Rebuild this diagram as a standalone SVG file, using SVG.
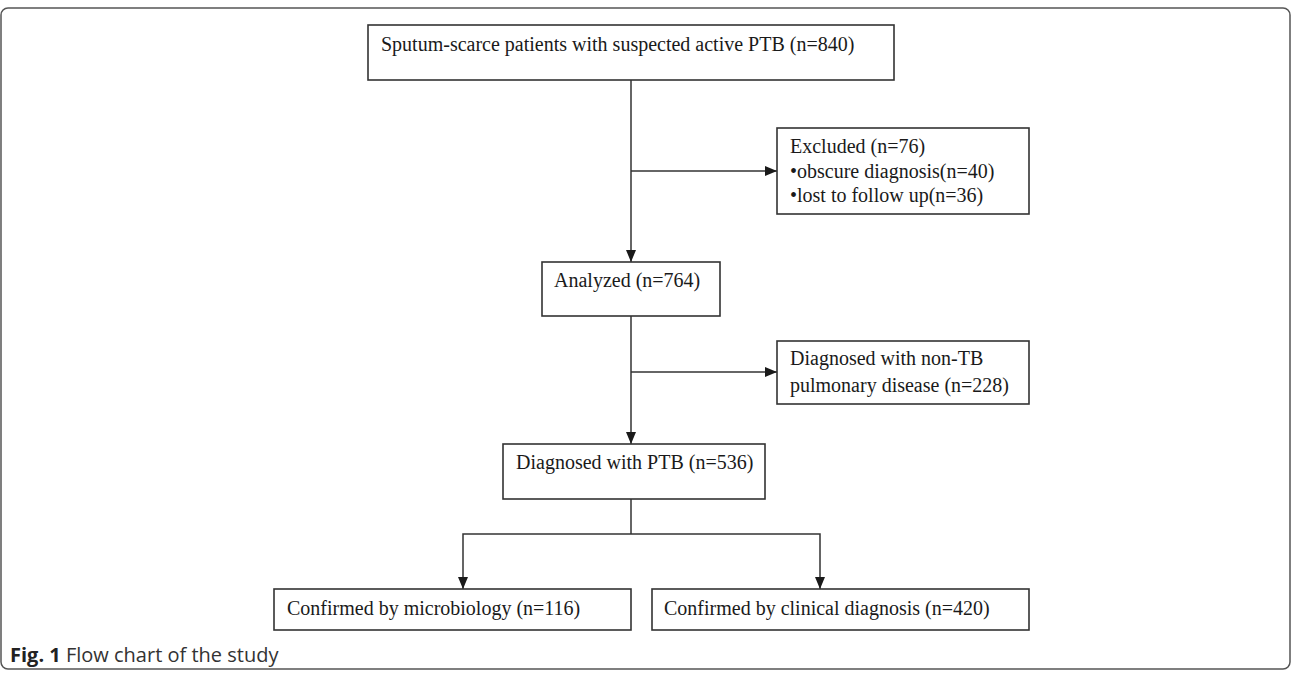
<svg xmlns="http://www.w3.org/2000/svg" width="1292" height="674" viewBox="0 0 1292 674">
<defs>
<marker id="ah" markerWidth="12" markerHeight="10" refX="12" refY="5" orient="auto" markerUnits="userSpaceOnUse">
<path d="M0,0 L12,5 L0,10 Z" fill="#1a1a1a"/>
</marker>
<style>
.box{fill:#ffffff;stroke:#333333;stroke-width:1.6}
.t{font-family:"Liberation Serif","Times New Roman",serif;font-size:20px;fill:#1a1a1a}
.c{fill:none;stroke:#333333;stroke-width:1.5}
.frame{fill:none;stroke:#555555;stroke-width:1.5}
.cap{font-family:"Open Sans","Liberation Sans",sans-serif;font-size:20px;fill:#333333}
</style>
</defs>
<rect class="frame" x="1" y="8" width="1289" height="661" rx="7" ry="7"/>
<g id="connectors">
<line class="c" x1="631" y1="80" x2="631" y2="262" marker-end="url(#ah)"/>
<line class="c" x1="631" y1="171" x2="777" y2="171" marker-end="url(#ah)"/>
<line class="c" x1="631" y1="316" x2="631" y2="444" marker-end="url(#ah)"/>
<line class="c" x1="631" y1="372" x2="777" y2="372" marker-end="url(#ah)"/>
<polyline class="c" points="631,499 631,534"/>
<polyline class="c" points="631,534 463,534 463,589" marker-end="url(#ah)"/>
<polyline class="c" points="631,534 820,534 820,589" marker-end="url(#ah)"/>
</g>
<g id="n_start">
<rect class="box" x="368" y="25" width="526" height="55"/>
<text class="t" x="381" y="51">Sputum-scarce patients with suspected active PTB (n=840)</text>
</g>
<g id="n_excluded">
<rect class="box" x="777" y="128" width="252" height="86"/>
<text class="t" x="790" y="153">Excluded (n=76)</text>
<text class="t" x="790" y="178">•obscure diagnosis(n=40)</text>
<text class="t" x="790" y="202">•lost to follow up(n=36)</text>
</g>
<g id="n_analyzed">
<rect class="box" x="542" y="262" width="178" height="54"/>
<text class="t" x="554" y="287">Analyzed (n=764)</text>
</g>
<g id="n_nontb">
<rect class="box" x="777" y="341" width="252" height="63"/>
<text class="t" x="790" y="365">Diagnosed with non-TB</text>
<text class="t" x="790" y="392">pulmonary disease (n=228)</text>
</g>
<g id="n_ptb">
<rect class="box" x="503" y="444" width="262" height="55"/>
<text class="t" x="516" y="469">Diagnosed with PTB (n=536)</text>
</g>
<g id="n_micro">
<rect class="box" x="274" y="589" width="357" height="41"/>
<text class="t" x="287" y="615">Confirmed by microbiology (n=116)</text>
</g>
<g id="n_clinical">
<rect class="box" x="652" y="589" width="377" height="41"/>
<text class="t" x="664" y="615">Confirmed by clinical diagnosis (n=420)</text>
</g>
<g id="caption">
<text class="cap" x="10" y="662"><tspan font-weight="bold" fill="#222222">Fig. 1</tspan> Flow chart of the study</text>
</g>
</svg>
